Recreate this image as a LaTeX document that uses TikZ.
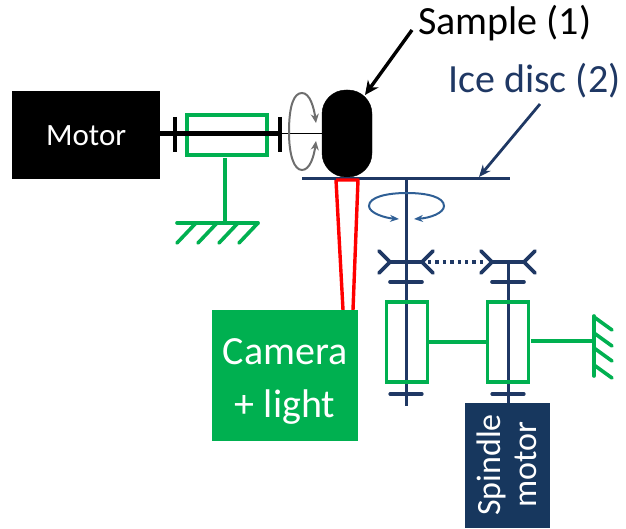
\documentclass[tikz,border=0pt]{standalone}
\usepackage{fontspec}
\setmainfont{Carlito}
\usetikzlibrary{arrows.meta}
\definecolor{navy}{HTML}{1F3864}
\definecolor{boxnavy}{HTML}{17375E}
\definecolor{grn}{HTML}{00B050}
\definecolor{rot}{HTML}{2F5F95}
\definecolor{arrowgray}{HTML}{6E6E6E}
\tikzset{
  shaft/.style={draw=navy,line width=3pt},
  blackshaft/.style={draw=black,line width=4.5pt},
  greenline/.style={draw=grn,line width=3.6pt},
  fork/.style={draw=navy,line width=3.6pt,line cap=round},
  solidbox/.style={inner sep=0pt,anchor=north west,text=white},
  lbl/.style={inner sep=0pt,anchor=west},
  pointer/.style={draw=black,line width=3.4pt,-{Stealth[length=14pt,width=13pt]}},
  navypointer/.style={draw=navy,line width=2.8pt,-{Stealth[length=12pt,width=10pt]}},
  grayarc/.style={draw=arrowgray,line width=2pt},
  bluearc/.style={draw=rot,line width=2pt},
}
\begin{document}
\begin{tikzpicture}[x=1pt,y=-1pt]
\useasboundingbox (0,0) rectangle (626,529);
% motor side
\node[solidbox,fill=black,minimum width=148pt,minimum height=88pt,font=\fontsize{31}{33}\selectfont] (motor) at (12,91) {Motor};
\node[draw=grn,line width=3.6pt,minimum width=80pt,minimum height=40pt,inner sep=0pt] (bearingA) at (227,135) {};
\coordinate (m1) at (160,133.5);
\coordinate (m2) at (280,133.5);
\coordinate (m3) at (323,133.5);
\draw[blackshaft] (m1) -- (m2);
\draw[draw=black,line width=1.6pt] (m2) -- (m3);
\draw[draw=black,line width=4.5pt] (175,117) -- (175,152);
\draw[draw=black,line width=4.5pt] (280,117) -- (280,152);
\coordinate (g1) at (225,223);
\draw[greenline] (225,158) -- (g1);
\draw[greenline,line cap=round] (177,223) -- (258,223);
\foreach \x in {196,217,238,258}
  \draw[greenline,line cap=round] (\x,223) -- (\x-19,243);
% sample
\draw[fill=black,draw=black,rounded corners=24pt] (322,90) rectangle (372,177);
\node[inner sep=0pt,minimum size=0pt] (sample) at (347,133) {};
% rotation arrow on sample
\draw[grayarc,-{Stealth[length=9pt,width=8pt]}] (289,132) .. controls (289,105) and (294,93) .. (302,93) .. controls (310,93) and (314,108) .. (316,123);
\draw[grayarc,-{Stealth[length=9pt,width=8pt]}] (289,132) .. controls (289,155) and (294,170) .. (302,170) .. controls (310,170) and (314,156) .. (316,141);
% disc
\coordinate (d1) at (302,178.5);
\coordinate (d2) at (510,178.5);
\draw[draw=navy,line width=3pt] (d1) -- (d2);
% optical cone
\draw[draw=red,line width=3.4pt,line join=round] (336,180) -- (358,180) -- (353,310);
\draw[draw=red,line width=3.4pt] (336,180) -- (343,310);
% camera
\node[fill=grn,inner sep=0pt,minimum width=146pt,minimum height=131pt] (camera) at (285,375.5) {};
\node[text=white,inner sep=0pt,align=center,font=\fontsize{40}{53}\selectfont] (cameratext) at (285,381.5) {Camera\\+ light};
% labels
\node[lbl,font=\fontsize{40}{42}\selectfont] (samplelabel) at (418,23) {Sample (1)};
\node[lbl,font=\fontsize{40}{42}\selectfont,text=navy] (icelabel) at (448,81) {Ice disc (2)};
\coordinate (s1) at (412,30);
\coordinate (s2) at (365,95);
\draw[pointer] (s1) -- (s2);
\coordinate (i1) at (540,104);
\coordinate (i2) at (479,177);
\draw[navypointer] (i1) -- (i2);
% spindles
\coordinate (spA) at (406,179);
\coordinate (spAe) at (406,406);
\coordinate (spB) at (508,262);
\coordinate (spBe) at (508,405);
\draw[shaft] (spA) -- (spAe);
\draw[shaft] (spB) -- (spBe);
% bars
\foreach \x in {406,508}{
  \draw[draw=navy,line width=3.6pt,line cap=round] (\x-16,282) -- (\x+16,282);
  \draw[draw=navy,line width=3.2pt,line cap=round] (\x-16,394) -- (\x+16,394);
}
% couplings
\foreach \x in {406,508}{
  \draw[fork] (\x-16,262) -- (\x+16,262);
  \draw[fork] (\x-27,251) -- (\x-16,262) -- (\x-27,273);
  \draw[fork] (\x+27,251) -- (\x+16,262) -- (\x+27,273);
}
\coordinate (c1) at (428,262);
\coordinate (c2) at (486,262);
\draw[draw=navy,line width=3.4pt,dash pattern=on 3.4pt off 4pt] (c1) -- (c2);
% rotation spindle arrow
\draw[bluearc,-{Stealth[length=9pt,width=7pt]}] (407,193) .. controls (387,193) and (369,197) .. (369,206) .. controls (369,213) and (385,218) .. (399,219);
\draw[bluearc,-{Stealth[length=9pt,width=7pt]}] (407,193) .. controls (427,193) and (444,197) .. (444,206) .. controls (444,213) and (430,218) .. (414,219);
% bearings
\node[draw=grn,line width=3.6pt,minimum width=41pt,minimum height=80pt,inner sep=0pt] (bearingB) at (407,342) {};
\node[draw=grn,line width=3.6pt,minimum width=41pt,minimum height=80pt,inner sep=0pt] (bearingC) at (508,342) {};
\draw[greenline] (bearingB.east) -- (bearingC.west);
\coordinate (g2) at (594,341);
\draw[greenline] (531,341) -- (g2);
\draw[greenline,line cap=round] (594,316) -- (594,376);
\foreach \y in {317,333,348,365}
  \draw[greenline,line cap=round] (594,\y) -- (612,\y+13);
% spindle motor
\node[fill=boxnavy,text=white,inner sep=0pt,minimum width=85pt,minimum height=125pt] (spindle) at (507,465) {};
\node[text=white,rotate=90,align=center,inner sep=0pt,font=\fontsize{34}{36}\selectfont] (spindletext) at (507,465) {Spindle\\motor};
\end{tikzpicture}
\end{document}
